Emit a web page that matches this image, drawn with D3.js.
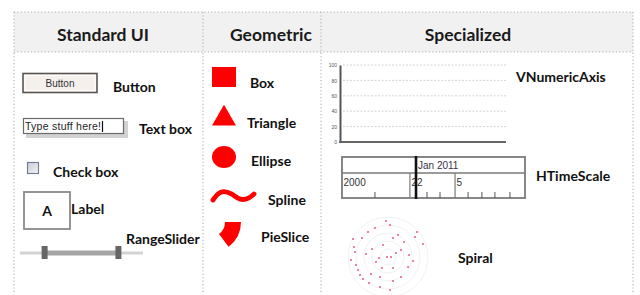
<!DOCTYPE html>
<html><head><meta charset="utf-8">
<script src="https://cdn.jsdelivr.net/npm/d3@7"></script>
<style>html,body{margin:0;padding:0;background:#fff;}svg{display:block;}</style>
</head><body>
<svg id="c" width="640" height="295"></svg>
<script>
// ---- data ----
const headers = ["Standard UI", "Geometric", "Specialized"];
const standardItems = ["Button", "Text box", "Check box", "Label", "RangeSlider"];
const geometricItems = ["Box", "Triangle", "Ellipse", "Spline", "PieSlice"];
const specializedItems = ["VNumericAxis", "HTimeScale", "Spiral"];
const axisTicks = [0, 20, 40, 60, 80, 100];
const timeTopLabels = ["Jan 2011"];
const timeBottomLabels = ["2000", "22", "5"];
const timeBottomStarts = [0, 1.67, 2.78];
const timeMinorTicks = [0.81, 2.09, 2.41, 3.1, 3.44, 3.76, 4.13];
const timeCursor = 1.82;
const rangeValues = [0.2, 0.8];
const spiralX = [2,-13,29,35,-35,-26,5,-5,-16,13,21,-1,3,-9,-37,-34,-33,-32,-30,-28,-25,25,-6,5,-17,-8,5,13,-19,-8,2,16,20,-22,10,-12,8,-20,27,-2];
const spiralY = [-32,-29,-25,-13,-18,-19,-19,-12,-8,-7,-2,0,0,1,3,-10,-5,8,13,18,22,4,11,11,17,20,24,20,26,30,33,-15,10,-3,-22,5,-4,-25,-20,-36];
const spiralRings = [8, 16, 24, 32, 40];

const svg = d3.select("#c");
const font = "Lato, 'Open Sans', sans-serif";
const dotted = {stroke:"#b5b5b5", "stroke-width":1.2, "stroke-dasharray":"1.2,2.2"};
function attrs(sel, o){ for (const k in o) sel.attr(k, o[k]); return sel; }

// header band
svg.append("rect").attr("x",14).attr("y",12).attr("width",619).attr("height",40).attr("fill","#f1f1f1");
attrs(svg.append("line").attr("x1",14).attr("x2",633).attr("y1",12).attr("y2",12), dotted);
attrs(svg.append("line").attr("x1",14).attr("x2",633).attr("y1",52).attr("y2",52), dotted);
[14, 203, 321, 633].forEach(x => attrs(svg.append("line").attr("x1",x).attr("x2",x).attr("y1",12).attr("y2",294), dotted));

const headerPos = [{x:103,a:"middle"},{x:230,a:"start"},{x:468,a:"middle"}];
svg.selectAll("text.h").data(headers).join("text").attr("class","h")
  .attr("x",(d,i)=>headerPos[i].x).attr("y",41).attr("text-anchor",(d,i)=>headerPos[i].a)
  .attr("font-family",font).attr("font-weight",700).attr("font-size",17.5).attr("fill","#1a1a1a").text(d=>d);

function label(x,y,t){
  svg.append("text").attr("x",x).attr("y",y).attr("font-family",font).attr("font-weight",700)
    .attr("font-size",14).attr("fill","#111").text(t);
}

// ---- Standard UI ----
const stdPos = [[113,92],[139,134],[53,177],[71,214],[126,244]];
standardItems.forEach((t,i)=>label(stdPos[i][0], stdPos[i][1], t));

// button
svg.append("rect").attr("x",23).attr("y",73.5).attr("width",74).attr("height",19).attr("fill","#f5f0ec").attr("stroke","#5a5552").attr("stroke-width",1.6);
svg.append("rect").attr("x",25).attr("y",75.5).attr("width",70).attr("height",15).attr("fill","none").attr("stroke","#fff").attr("stroke-width",1);
svg.append("text").attr("x",60).attr("y",87).attr("text-anchor","middle").attr("font-family","Arial, 'Liberation Sans', sans-serif").attr("font-size",10).attr("fill","#333").text(standardItems[0]);

// text box
svg.append("rect").attr("x",26).attr("y",121).attr("width",102).attr("height",17).attr("fill","#d2d2d2");
svg.append("rect").attr("x",23.5).attr("y",118.5).attr("width",100).attr("height",15).attr("fill","#fff").attr("stroke","#6b6b6b").attr("stroke-width",1.2);
svg.append("text").attr("x",25).attr("y",130).attr("font-family","Arial, 'Liberation Sans', sans-serif").attr("font-size",10.5).attr("textLength",76).attr("fill","#222").text("Type stuff here!");
svg.append("line").attr("x1",102.5).attr("x2",102.5).attr("y1",121).attr("y2",132).attr("stroke","#111").attr("stroke-width",1.2);

// check box
const cg = svg.append("defs").append("linearGradient").attr("id","cbg").attr("x1",0).attr("y1",0).attr("x2",1).attr("y2",1);
cg.append("stop").attr("offset",0).attr("stop-color","#c9ccd4");
cg.append("stop").attr("offset",1).attr("stop-color","#f4f4f6");
svg.append("rect").attr("x",27.5).attr("y",162.5).attr("width",11).attr("height",11).attr("fill","url(#cbg)").attr("stroke","#6d7a96").attr("stroke-width",1.1);

// label box
svg.append("rect").attr("x",24).attr("y",192).attr("width",46).attr("height",37).attr("fill","#fff").attr("stroke","#8a8a8a").attr("stroke-width",1.8);
svg.append("text").attr("x",47).attr("y",216).attr("text-anchor","middle").attr("font-family",font).attr("font-weight",700).attr("font-size",14).attr("fill","#111").text("A");

// range slider
const rs = d3.scaleLinear().domain([0,1]).range([20,143]);
svg.append("line").attr("x1",rs(0)).attr("x2",rs(1)).attr("y1",253).attr("y2",253).attr("stroke","#d3d3d3").attr("stroke-width",3);
svg.append("line").attr("x1",rs(rangeValues[0])).attr("x2",rs(rangeValues[1])).attr("y1",253).attr("y2",253).attr("stroke","#a5a5a5").attr("stroke-width",5);
svg.selectAll("rect.th").data(rangeValues).join("rect").attr("class","th")
  .attr("x",d=>rs(d)-3).attr("y",246).attr("width",6).attr("height",13).attr("fill","#666");

// ---- Geometric ----
const geoPos = [[250,88],[247,128],[251,166],[268,205],[261,242]];
geometricItems.forEach((t,i)=>label(geoPos[i][0], geoPos[i][1], t));
const red = "#ff0000";
svg.append("rect").attr("x",212).attr("y",67).attr("width",24).attr("height",20).attr("fill",red);
svg.append("path").attr("d",d3.symbol(d3.symbolTriangle, 250)()).attr("transform","translate(224,118.5)").attr("fill",red);
svg.append("ellipse").attr("cx",224).attr("cy",157).attr("rx",12).attr("ry",11).attr("fill",red);
svg.append("path").attr("d",d3.line().curve(d3.curveBasis)([[213,200],[220,190],[232,193],[240,201],[250,198],[254,194]]))
  .attr("fill","none").attr("stroke",red).attr("stroke-width",4.8).attr("stroke-linecap","round");
svg.append("path").attr("d",d3.arc()({innerRadius:15,outerRadius:31,startAngle:Math.PI/2,endAngle:2.5}))
  .attr("transform","translate(210,222)").attr("fill",red);

// ---- Specialized ----
const specPos = [[516,82],[536,181],[458,263]];
specializedItems.forEach((t,i)=>label(specPos[i][0], specPos[i][1], t));

// VNumericAxis
const vy = d3.scaleLinear().domain([0,100]).range([142,65]);
svg.selectAll("line.g").data(axisTicks.filter(d=>d>0)).join("line").attr("class","g")
  .attr("x1",343).attr("x2",506).attr("y1",d=>vy(d)).attr("y2",d=>vy(d))
  .attr("stroke","#d6d6d6").attr("stroke-width",1).attr("stroke-dasharray","2,1.5");
const ax = svg.append("g").attr("transform","translate(340,0)").call(d3.axisLeft(vy).tickValues(axisTicks).tickSize(0).tickPadding(3));
ax.select(".domain").attr("stroke","#555").attr("stroke-width",2);
ax.selectAll("text").attr("font-size",5).attr("font-family","Arial, sans-serif").attr("fill","#555");
svg.append("line").attr("x1",339).attr("x2",506).attr("y1",vy(0)).attr("y2",vy(0)).attr("stroke","#666").attr("stroke-width",2);

// HTimeScale
const tx = d3.scaleLinear().domain([0,4.5]).range([342,525]);
svg.append("rect").attr("x",342).attr("y",157).attr("width",183).attr("height",41).attr("fill","#fff").attr("stroke","#7a7a7a").attr("stroke-width",1.8);
svg.append("line").attr("x1",342).attr("x2",525).attr("y1",173).attr("y2",173).attr("stroke","#7a7a7a").attr("stroke-width",1.3);
svg.selectAll("line.tb").data(timeBottomStarts.slice(1)).join("line").attr("class","tb")
  .attr("x1",d=>tx(d)).attr("x2",d=>tx(d)).attr("y1",173).attr("y2",198).attr("stroke","#7a7a7a").attr("stroke-width",1.2);
svg.selectAll("line.tm").data(timeMinorTicks).join("line").attr("class","tm")
  .attr("x1",d=>tx(d)).attr("x2",d=>tx(d)).attr("y1",192).attr("y2",198).attr("stroke","#555").attr("stroke-width",1);
svg.selectAll("text.tbl").data(timeBottomLabels).join("text").attr("class","tbl")
  .attr("x",(d,i)=>tx(timeBottomStarts[i])+1.5).attr("y",186).attr("font-family","Arial, 'Liberation Sans', sans-serif").attr("font-size",10).attr("fill","#333").text(d=>d);
svg.selectAll("text.ttl").data(timeTopLabels).join("text").attr("class","ttl")
  .attr("x",tx(timeCursor)+2).attr("y",169).attr("font-family","Arial, 'Liberation Sans', sans-serif").attr("font-size",10).attr("fill","#3a2f45").text(d=>d);
svg.append("line").attr("x1",tx(timeCursor)).attr("x2",tx(timeCursor)).attr("y1",156).attr("y2",199).attr("stroke","#111").attr("stroke-width",2.6);

// Spiral
const sx = d3.scaleLinear().domain([-40,40]).range([348,428]);
const sy = d3.scaleLinear().domain([-40,40]).range([217,297]);
svg.selectAll("circle.ring").data(spiralRings).join("circle").attr("class","ring")
  .attr("cx",sx(0)).attr("cy",sy(0)).attr("r",d=>sx(d)-sx(0)).attr("fill","none").attr("stroke","#f2f2f2").attr("stroke-width",1);
svg.selectAll("circle.sp").data(spiralX).join("circle").attr("class","sp")
  .attr("cx",d=>sx(d)).attr("cy",(d,i)=>sy(spiralY[i])).attr("r",1).attr("fill","#e0607a");
</script>
</body></html>
